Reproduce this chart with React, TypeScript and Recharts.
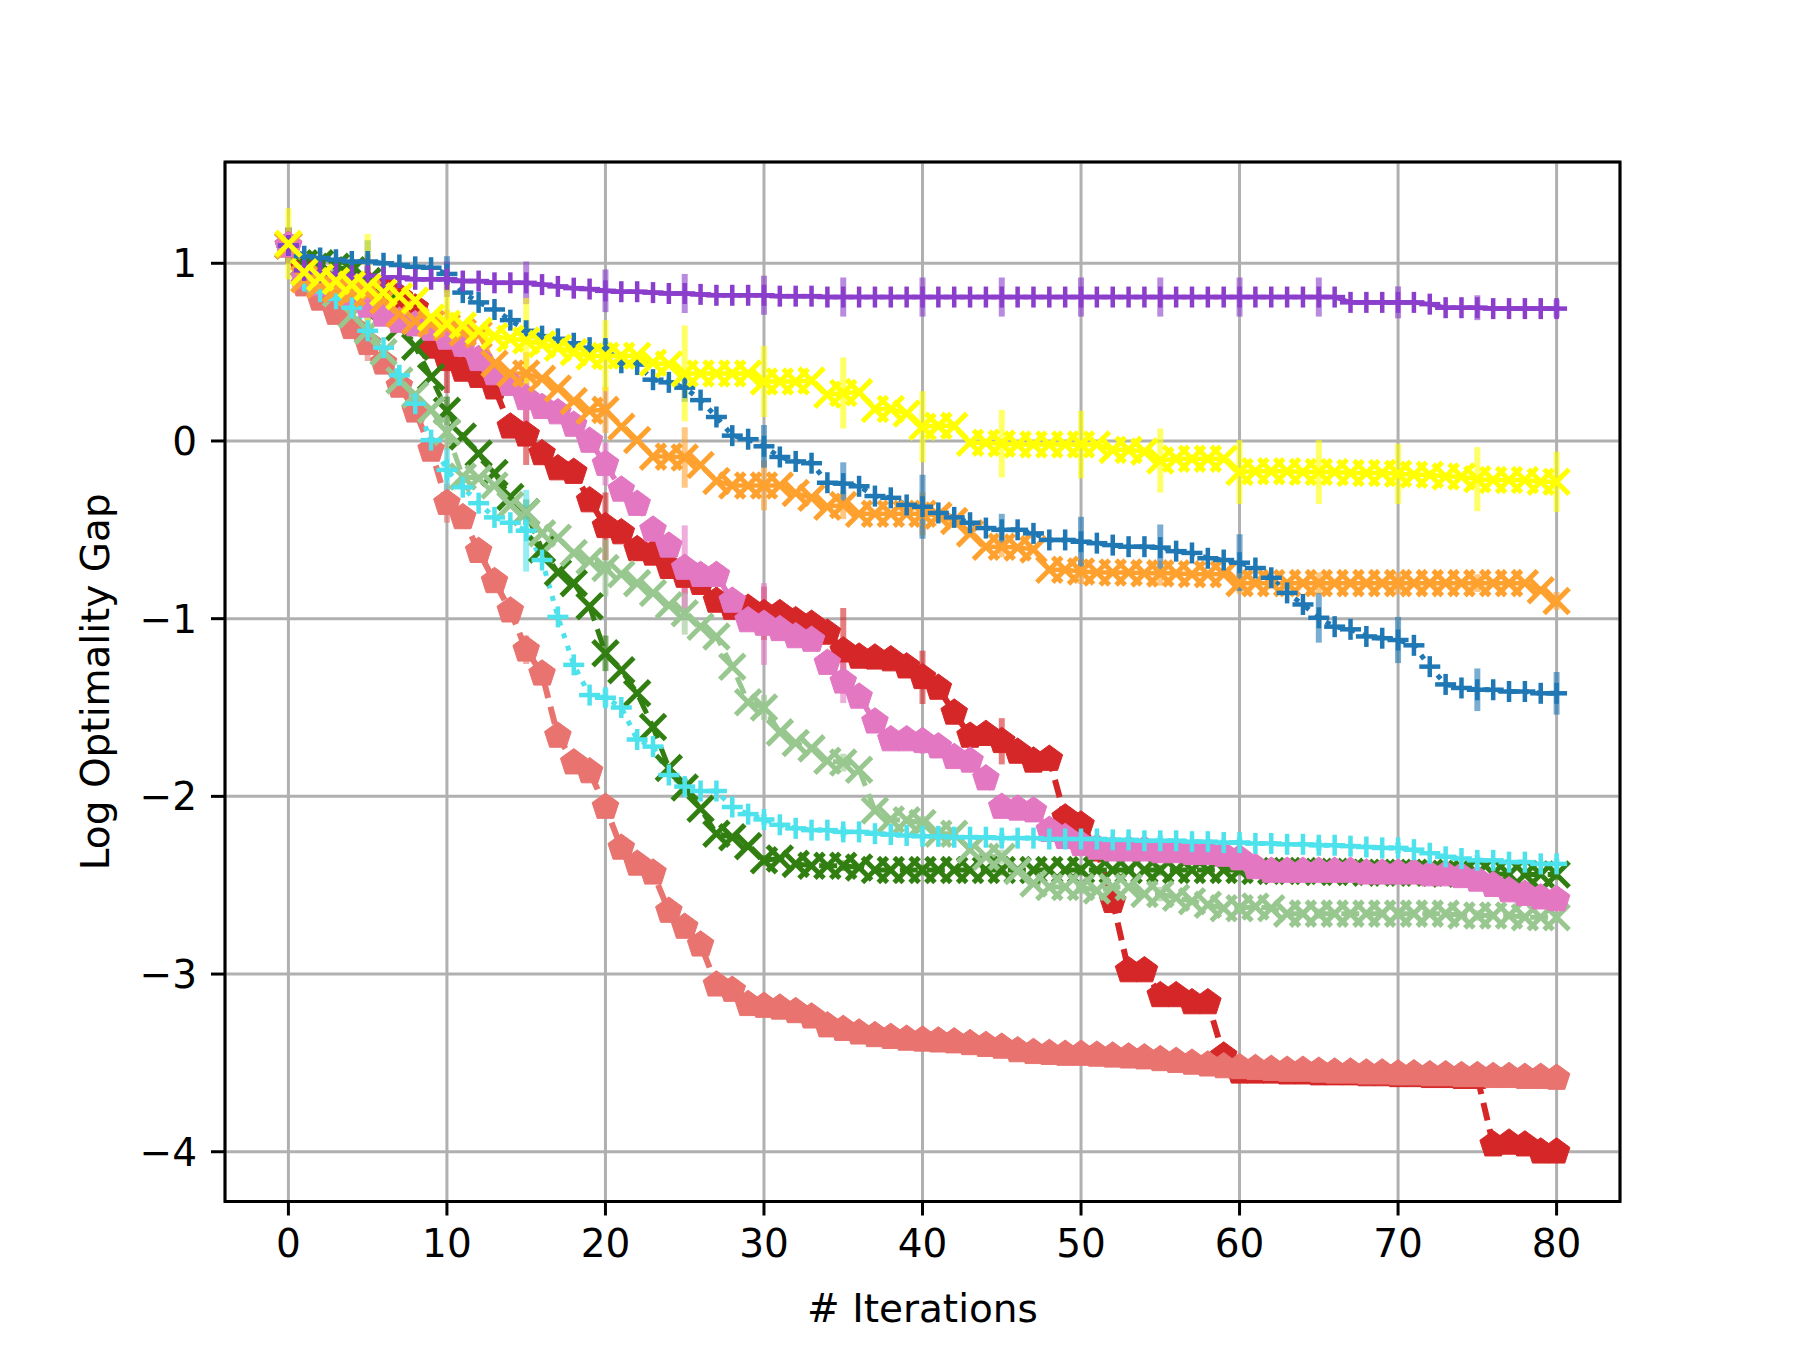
import React from 'react';
import { CartesianGrid, ErrorBar, Line, LineChart, ReferenceArea, XAxis, YAxis } from 'recharts';

document.body.style.margin = '0';

const iterations = Array.from({ length: 81 }, (_, i) => i);
const xTicks = [0, 10, 20, 30, 40, 50, 60, 70, 80];
const yTicks = [-4, -3, -2, -1, 0, 1];

// log optimality gap per iteration
const purple = [
  1.1, 0.96, 0.95, 0.94, 0.93, 0.93, 0.92, 0.92, 0.91, 0.91,
  0.91, 0.9, 0.9, 0.89, 0.89, 0.89, 0.88, 0.87, 0.86, 0.855,
  0.845, 0.84, 0.84, 0.835, 0.83, 0.83, 0.825, 0.82, 0.82, 0.82,
  0.82, 0.815, 0.815, 0.815, 0.81, 0.81, 0.81, 0.81, 0.81, 0.81,
  0.81, 0.81, 0.81, 0.81, 0.81, 0.81, 0.81, 0.81, 0.81, 0.81,
  0.81, 0.81, 0.81, 0.81, 0.81, 0.81, 0.81, 0.81, 0.81, 0.81,
  0.81, 0.81, 0.81, 0.81, 0.81, 0.81, 0.81, 0.78, 0.78, 0.78,
  0.78, 0.78, 0.77, 0.75, 0.75, 0.75, 0.745, 0.745, 0.745, 0.745,
  0.745,
];
const blue = [
  1.1, 1.04, 1.03, 1.02, 1.01, 1.01, 1.0, 0.99, 0.98, 0.975,
  0.94, 0.835, 0.78, 0.74, 0.68, 0.62, 0.59, 0.575, 0.55, 0.525,
  0.52, 0.44, 0.43, 0.345, 0.33, 0.3, 0.23, 0.135, 0.03, 0.01,
  -0.03, -0.09, -0.115, -0.125, -0.235, -0.24, -0.255, -0.31, -0.32, -0.36,
  -0.37, -0.405, -0.43, -0.46, -0.49, -0.5, -0.5, -0.52, -0.557, -0.557,
  -0.567, -0.575, -0.586, -0.595, -0.595, -0.6, -0.62, -0.63, -0.66, -0.67,
  -0.685, -0.715, -0.77, -0.855, -0.92, -0.995, -1.045, -1.06, -1.1, -1.11,
  -1.12, -1.15, -1.27, -1.37, -1.39, -1.4, -1.4, -1.41, -1.41, -1.42,
  -1.42,
];
const yellow = [
  1.11, 0.95, 0.92, 0.9, 0.88, 0.865, 0.835, 0.815, 0.79, 0.695,
  0.66, 0.65, 0.62, 0.59, 0.575, 0.565, 0.545, 0.525, 0.5, 0.475,
  0.48, 0.48, 0.48, 0.44, 0.43, 0.38, 0.38, 0.38, 0.38, 0.38,
  0.335, 0.335, 0.335, 0.34, 0.26, 0.27, 0.275, 0.18, 0.18, 0.155,
  0.08, 0.085, 0.085, -0.01, -0.01, -0.015, -0.02, -0.02, -0.02, -0.02,
  -0.02, -0.02, -0.05, -0.05, -0.06, -0.11, -0.1, -0.1, -0.1, -0.1,
  -0.175, -0.17, -0.17, -0.17, -0.175, -0.175, -0.175, -0.18, -0.18, -0.18,
  -0.185, -0.19, -0.19, -0.2, -0.2, -0.215, -0.22, -0.22, -0.22, -0.23,
  -0.23,
];
const orange = [
  1.1, 0.91, 0.88, 0.855, 0.835, 0.83, 0.79, 0.715, 0.675, 0.66,
  0.64, 0.61, 0.6, 0.435, 0.38, 0.38, 0.35, 0.295, 0.225, 0.17,
  0.175, 0.08, 0.005, -0.088, -0.088, -0.093, -0.135, -0.225, -0.25, -0.25,
  -0.25, -0.25, -0.293, -0.32, -0.37, -0.36, -0.41, -0.41, -0.41, -0.41,
  -0.41, -0.42, -0.45, -0.52, -0.595, -0.595, -0.6, -0.61, -0.725, -0.725,
  -0.735, -0.74, -0.74, -0.74, -0.745, -0.745, -0.745, -0.75, -0.75, -0.75,
  -0.8, -0.8, -0.8, -0.8, -0.8, -0.8, -0.8, -0.8, -0.8, -0.8,
  -0.8, -0.8, -0.8, -0.8, -0.8, -0.8, -0.8, -0.8, -0.8, -0.84,
  -0.9,
];
const cyan = [
  1.1, 0.9, 0.84, 0.8, 0.75, 0.62, 0.525, 0.37, 0.21, 0.005,
  -0.163, -0.26, -0.35, -0.43, -0.46, -0.505, -0.67, -0.99, -1.26, -1.43,
  -1.445, -1.5, -1.68, -1.72, -1.88, -1.945, -1.97, -1.97, -2.06, -2.1,
  -2.13, -2.16, -2.18, -2.19, -2.19, -2.2, -2.2, -2.21, -2.215, -2.22,
  -2.225, -2.225, -2.23, -2.23, -2.23, -2.235, -2.235, -2.235, -2.24, -2.24,
  -2.24, -2.24, -2.245, -2.245, -2.25, -2.25, -2.25, -2.255, -2.255, -2.26,
  -2.26, -2.265, -2.265, -2.27, -2.27, -2.275, -2.275, -2.28, -2.285, -2.29,
  -2.29, -2.3, -2.32, -2.34, -2.35, -2.36, -2.36, -2.37, -2.37, -2.38,
  -2.38,
];
const darkGreen = [
  1.1, 1.0, 1.0, 0.98, 0.96, 0.9, 0.76, 0.64, 0.53, 0.36,
  0.17, 0.025, -0.07, -0.18, -0.315, -0.4, -0.61, -0.74, -0.8, -0.93,
  -1.195, -1.29, -1.42, -1.61, -1.84, -1.95, -2.07, -2.21, -2.23, -2.28,
  -2.36, -2.35, -2.38, -2.39, -2.39, -2.39, -2.4, -2.415, -2.415, -2.415,
  -2.415, -2.415, -2.415, -2.415, -2.415, -2.415, -2.415, -2.415, -2.415, -2.415,
  -2.415, -2.415, -2.415, -2.415, -2.415, -2.415, -2.415, -2.415, -2.415, -2.415,
  -2.415, -2.42, -2.42, -2.42, -2.42, -2.425, -2.425, -2.425, -2.43, -2.43,
  -2.43, -2.43, -2.43, -2.435, -2.435, -2.435, -2.435, -2.44, -2.44, -2.44,
  -2.44,
];
const lightGreen = [
  1.1, 0.95, 0.9, 0.83, 0.71, 0.62, 0.5, 0.34, 0.26, 0.175,
  0.05, -0.2, -0.21, -0.25, -0.36, -0.4, -0.52, -0.545, -0.63, -0.675,
  -0.715, -0.75, -0.8, -0.855, -0.925, -0.97, -1.045, -1.1, -1.27, -1.47,
  -1.5, -1.64, -1.7, -1.73, -1.8, -1.81, -1.85, -2.08, -2.13, -2.135,
  -2.15, -2.21, -2.21, -2.3, -2.34, -2.34, -2.42, -2.49, -2.51, -2.51,
  -2.51, -2.53, -2.51, -2.51, -2.55, -2.55, -2.57, -2.59, -2.61, -2.63,
  -2.63, -2.62, -2.63, -2.66, -2.66, -2.66, -2.66, -2.66, -2.66, -2.66,
  -2.66, -2.66, -2.66, -2.66, -2.67, -2.67, -2.67, -2.67, -2.68, -2.68,
  -2.68,
];
const pink = [
  1.1, 0.92, 0.88, 0.85, 0.81, 0.76, 0.71, 0.675, 0.655, 0.63,
  0.58, 0.54, 0.46, 0.38, 0.32, 0.24, 0.19, 0.16, 0.09, 0.0,
  -0.13, -0.275, -0.355, -0.5, -0.59, -0.715, -0.755, -0.755, -0.9, -1.01,
  -1.03, -1.06, -1.1, -1.12, -1.25, -1.355, -1.44, -1.58, -1.68, -1.68,
  -1.69, -1.72, -1.78, -1.8, -1.9, -2.06, -2.07, -2.08, -2.19, -2.23,
  -2.27, -2.29, -2.3, -2.3, -2.3, -2.31, -2.31, -2.32, -2.32, -2.33,
  -2.35, -2.4, -2.42, -2.42, -2.42, -2.42, -2.42, -2.42, -2.43, -2.43,
  -2.43, -2.43, -2.44, -2.44, -2.45, -2.47, -2.5, -2.53, -2.55, -2.57,
  -2.58,
];
const red = [
  1.1, 0.97, 0.93, 0.91, 0.9, 0.88, 0.86, 0.81, 0.75, 0.53,
  0.46, 0.4, 0.365, 0.3, 0.08, 0.035, -0.07, -0.155, -0.175, -0.335,
  -0.48, -0.515, -0.61, -0.635, -0.71, -0.76, -0.8, -0.9, -0.94, -0.94,
  -0.97, -0.97, -1.01, -1.03, -1.08, -1.18, -1.215, -1.22, -1.23, -1.27,
  -1.33, -1.39, -1.53, -1.66, -1.65, -1.69, -1.75, -1.8, -1.79, -2.12,
  -2.16, -2.3, -2.59, -2.98, -2.98, -3.12, -3.12, -3.16, -3.16, -3.46,
  -3.55, -3.55, -3.55, -3.555, -3.555, -3.56, -3.56, -3.56, -3.565, -3.565,
  -3.57, -3.57, -3.575, -3.575, -3.58, -3.58, -3.96, -3.95, -3.96, -4.0,
  -4.0,
];
const salmon = [
  1.1, 0.88, 0.8, 0.72, 0.64, 0.55, 0.44, 0.31, 0.17, -0.05,
  -0.35, -0.43, -0.62, -0.79, -0.955, -1.175, -1.31, -1.66, -1.81, -1.86,
  -2.06, -2.29, -2.38, -2.43, -2.645, -2.735, -2.835, -3.06, -3.09, -3.17,
  -3.18, -3.19, -3.21, -3.24, -3.29, -3.31, -3.33, -3.345, -3.355, -3.365,
  -3.37, -3.375, -3.38, -3.39, -3.4, -3.41, -3.43, -3.44, -3.445, -3.45,
  -3.45, -3.455, -3.46, -3.465, -3.47, -3.48, -3.49, -3.5, -3.51, -3.52,
  -3.525, -3.53, -3.535, -3.54, -3.54, -3.545, -3.55, -3.55, -3.555, -3.555,
  -3.56, -3.56, -3.565, -3.565, -3.57, -3.57, -3.575, -3.575, -3.58, -3.58,
  -3.585,
];

// error bar half-lengths, one every 5 iterations (0, 5, ..., 80)
const purpleErr = [0.1, 0.12, 0.1, 0.12, 0.12, 0.11, 0.11, 0.11, 0.11, 0.11, 0.11, 0.11, 0.11, 0.11, 0.09, 0.07, 0.05];
const blueErr = [0.1, 0.12, 0.1, 0.06, 0.04, 0.08, 0.12, 0.12, 0.18, 0.09, 0.14, 0.13, 0.16, 0.14, 0.13, 0.12, 0.12];
const yellowErr = [0.2, 0.3, 0.22, 0.24, 0.2, 0.27, 0.2, 0.2, 0.2, 0.19, 0.19, 0.18, 0.18, 0.18, 0.17, 0.18, 0.17];
const orangeErr = [0.1, 0.1, 0.1, 0.12, 0.13, 0.17, 0.14, 0.08, 0.12, 0.06, 0.07, 0.07, 0.06, 0.06, 0.06, 0.05, 0.05];
const cyanErr = [0.1, 0.1, 0.12, 0.23, 0.05, 0.04, 0.03, 0.03, 0.03, 0.03, 0.03, 0.03, 0.03, 0.03, 0.03, 0.03, 0.03];
const darkGreenErr = [0.1, 0.08, 0.08, 0.07, 0.1, 0.05, 0.03, 0.03, 0.03, 0.03, 0.03, 0.03, 0.03, 0.03, 0.03, 0.03, 0.03];
const lightGreenErr = [0.1, 0.08, 0.1, 0.07, 0.16, 0.12, 0.07, 0.05, 0.04, 0.04, 0.04, 0.04, 0.03, 0.03, 0.03, 0.03, 0.03];
const pinkErr = [0.1, 0.08, 0.1, 0.15, 0.12, 0.24, 0.23, 0.12, 0.07, 0.04, 0.03, 0.03, 0.03, 0.03, 0.03, 0.03, 0.03];
const redErr = [0.1, 0.1, 0.19, 0.17, 0.19, 0.1, 0.15, 0.24, 0.15, 0.13, 0.05, 0.03, 0.03, 0.03, 0.03, 0.03, 0.03];
const salmonErr = [0.1, 0.1, 0.11, 0.08, 0.05, 0.04, 0.03, 0.03, 0.03, 0.03, 0.03, 0.03, 0.03, 0.03, 0.03, 0.03, 0.03];

type Marker = 'plus' | 'cross' | 'pentagon';

interface SeriesDef {
  key: string;
  values: number[];
  errors: number[];
  color: string;
  marker: Marker;
  dash?: string;
  width: number;
}

const DOTTED = '5 8';
const DASHED = '18 9';
const DASHDOT = '26 8 5 8';

// drawing order, bottom first
const series: SeriesDef[] = [
  { key: 'red', values: red, errors: redErr, color: '#d62728', marker: 'pentagon', dash: DASHED, width: 6 },
  { key: 'salmon', values: salmon, errors: salmonErr, color: '#e8736f', marker: 'pentagon', dash: DASHED, width: 6 },
  { key: 'darkGreen', values: darkGreen, errors: darkGreenErr, color: '#327f11', marker: 'cross', dash: DASHED, width: 5 },
  { key: 'lightGreen', values: lightGreen, errors: lightGreenErr, color: '#98c78f', marker: 'cross', dash: DASHED, width: 5 },
  { key: 'pink', values: pink, errors: pinkErr, color: '#e377c2', marker: 'pentagon', dash: DASHDOT, width: 5.5 },
  { key: 'cyan', values: cyan, errors: cyanErr, color: '#4de2ec', marker: 'plus', dash: DOTTED, width: 5 },
  { key: 'orange', values: orange, errors: orangeErr, color: '#ffa12e', marker: 'cross', width: 4.5 },
  { key: 'blue', values: blue, errors: blueErr, color: '#1f77b4', marker: 'plus', dash: DOTTED, width: 5 },
  { key: 'purple', values: purple, errors: purpleErr, color: '#8b3dcb', marker: 'plus', width: 4.5 },
  { key: 'yellow', values: yellow, errors: yellowErr, color: '#ffff00', marker: 'cross', width: 4.5 },
];

const table = iterations.map((iter) => {
  const row: Record<string, number | undefined> = { iter };
  series.forEach((s) => {
    row[s.key] = s.values[iter];
    row[s.key + 'Err'] = iter % 5 === 0 ? s.errors[iter / 5] : undefined;
  });
  return row;
});

const makeDot = (marker: Marker, color: string) => (props: any) => {
  const { cx, cy, index } = props;
  if (cx == null || cy == null) return <g key={index} />;
  if (marker === 'plus') {
    const h = 10.5;
    return (
      <g key={index}>
        <line x1={cx - h} y1={cy} x2={cx + h} y2={cy} stroke={color} strokeWidth={4.5} />
        <line x1={cx} y1={cy - h} x2={cx} y2={cy + h} stroke={color} strokeWidth={4.5} />
      </g>
    );
  }
  if (marker === 'cross') {
    const h = 12.5;
    return (
      <g key={index}>
        <line x1={cx - h} y1={cy - h} x2={cx + h} y2={cy + h} stroke={color} strokeWidth={5} />
        <line x1={cx - h} y1={cy + h} x2={cx + h} y2={cy - h} stroke={color} strokeWidth={5} />
      </g>
    );
  }
  const r = 14;
  const pts = [0, 1, 2, 3, 4]
    .map((k) => {
      const a = ((-90 + 72 * k) * Math.PI) / 180;
      return `${cx + r * Math.cos(a)},${cy + r * Math.sin(a)}`;
    })
    .join(' ');
  return <polygon key={index} points={pts} fill={color} stroke={color} strokeWidth={1} />;
};

const fmt = (v: number) => (v < 0 ? '\u2212' + Math.abs(v) : String(v));

const font = { fontSize: 39, fill: '#000', fontFamily: 'DejaVu Sans' };

export default function App() {
  return (
    <LineChart width={1800} height={1350} data={table} margin={{ top: 162, right: 180, bottom: 18.5, left: 85 }}>
      <CartesianGrid stroke="#b0b0b0" strokeWidth={3} />
      <XAxis
        dataKey="iter"
        type="number"
        domain={[-4, 84]}
        ticks={xTicks}
        interval={0}
        allowDataOverflow
        axisLine={false}
        tickLine={{ stroke: '#000', strokeWidth: 3 }}
        tickSize={14}
        tickMargin={14}
        height={130}
        tick={font}
        label={{ value: '# Iterations', position: 'insideBottom', offset: 10, ...font }}
      />
      <YAxis
        type="number"
        domain={[-4.28, 1.57]}
        ticks={yTicks}
        interval={0}
        allowDataOverflow
        axisLine={false}
        tickLine={{ stroke: '#000', strokeWidth: 3 }}
        tickSize={14}
        tickMargin={14}
        width={140}
        tick={font}
        tickFormatter={fmt}
        label={{
          value: 'Log Optimality Gap',
          angle: -90,
          position: 'insideLeft',
          offset: 10,
          ...font,
          style: { textAnchor: 'middle' },
        }}
      />
      {series.map((s) => (
        <Line
          key={s.key}
          type="linear"
          dataKey={s.key}
          stroke={s.color}
          strokeWidth={s.width}
          strokeDasharray={s.dash}
          dot={makeDot(s.marker, s.color)}
          activeDot={false}
          isAnimationActive={false}
        >
          <ErrorBar
            dataKey={s.key + 'Err'}
            direction="y"
            width={0}
            stroke={s.color}
            strokeOpacity={0.6}
            strokeWidth={6}
            isAnimationActive={false}
          />
        </Line>
      ))}
      <ReferenceArea x1={-4} x2={84} y1={-4.28} y2={1.57} fill="none" stroke="#000" strokeWidth={3} ifOverflow="visible" />
    </LineChart>
  );
}
